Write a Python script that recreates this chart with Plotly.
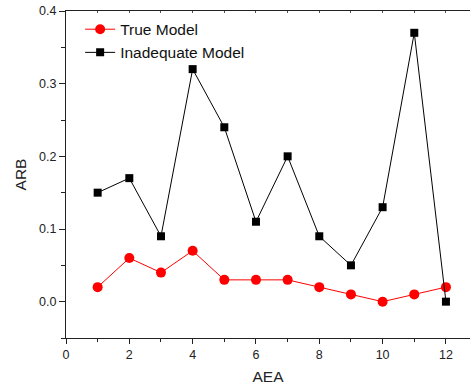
import plotly.graph_objects as go

aea = [1, 2, 3, 4, 5, 6, 7, 8, 9, 10, 11, 12]
true_model = [0.02, 0.06, 0.04, 0.07, 0.03, 0.03, 0.03, 0.02, 0.01, 0.0, 0.01, 0.02]
inadequate_model = [0.15, 0.17, 0.09, 0.32, 0.24, 0.11, 0.20, 0.09, 0.05, 0.13, 0.37, 0.0]

fig = go.Figure()
fig.add_trace(go.Scatter(x=aea, y=true_model, mode="lines+markers", name="True Model",
                         line=dict(color="#ff0000", width=1),
                         marker=dict(symbol="circle", size=10, color="#ff0000")))
fig.add_trace(go.Scatter(x=aea, y=inadequate_model, mode="lines+markers", name="Inadequate Model",
                         line=dict(color="#000000", width=1),
                         marker=dict(symbol="square", size=8, color="#000000")))

font = "Liberation Sans, Arial, sans-serif"
fig.update_layout(
    width=470, height=389,
    margin=dict(l=66, r=0, t=11, b=51),
    paper_bgcolor="white", plot_bgcolor="white",
    font=dict(family=font, size=12, color="#222"),
    showlegend=True,
    legend=dict(x=0.035, y=0.995, xanchor="left", yanchor="top",
                bgcolor="rgba(0,0,0,0)", font=dict(size=15.5, color="#111"),
                tracegroupgap=0, itemwidth=30),
    xaxis=dict(range=[0, 12.76], dtick=2, tick0=0, ticks="outside", ticklen=5,
               tickwidth=1.3, tickcolor="#222", showline=True, linecolor="#222",
               linewidth=1.3, showgrid=False, zeroline=False,
               minor=dict(dtick=1, ticks="outside", ticklen=3, tickcolor="#222", showgrid=False),
               title=dict(text="AEA", font=dict(size=15.5, color="#222"), standoff=9),
               tickfont=dict(size=12.5, color="#222")),
    xaxis2=dict(range=[0, 12.76], overlaying="x", side="top", dtick=1, tick0=0,
                ticks="inside", ticklen=2, tickcolor="#555", showline=True,
                linecolor="#222", linewidth=1.3, showticklabels=False,
                showgrid=False, zeroline=False),
    yaxis=dict(range=[-0.05, 0.4], dtick=0.1, tick0=0, ticks="outside", ticklen=6,
               tickwidth=1.3, tickcolor="#222", showline=True, linecolor="#222",
               linewidth=1.3, showgrid=False, zeroline=False, tickformat=".1f",
               minor=dict(dtick=0.05, tick0=0, ticks="outside", ticklen=4, tickcolor="#222", showgrid=False),
               title=dict(text="ARB", font=dict(size=15.5, color="#222"), standoff=8),
               tickfont=dict(size=12.5, color="#222")),
)
# invisible trace to activate top axis
fig.add_trace(go.Scatter(x=[0], y=[None], xaxis="x2", showlegend=False, hoverinfo="skip"))

fig.write_html("out.html")
